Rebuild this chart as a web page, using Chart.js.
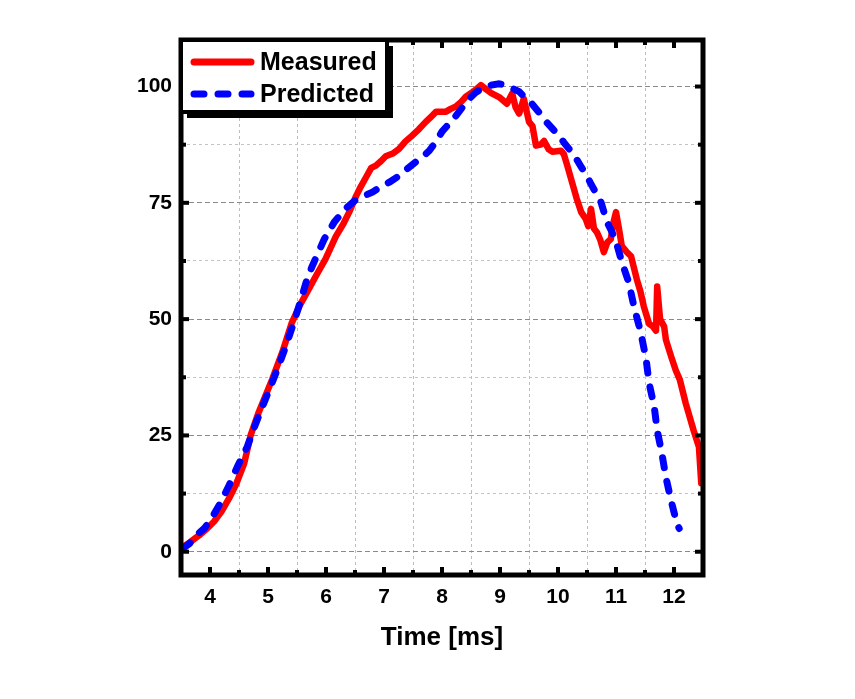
<!DOCTYPE html>
<html>
<head>
<meta charset="utf-8">
<script src="https://cdn.jsdelivr.net/npm/chart.js@4.4.1/dist/chart.umd.min.js"></script>
<style>
  html, body { margin: 0; padding: 0; background: #fff; }
  #wrap { width: 855px; height: 699px; }
</style>
</head>
<body>
<div id="wrap"><canvas id="chart" width="855" height="699"></canvas></div>
<script>
// measured curve (red)
const measuredTime = [3.52, 3.65, 3.81, 3.95, 4.07, 4.2, 4.33, 4.45, 4.59, 4.7, 4.84, 5.07, 5.25, 5.41, 5.55, 5.7, 5.85, 5.99, 6.17, 6.3, 6.4, 6.52, 6.6, 6.69, 6.78, 6.86, 6.95, 7.03, 7.15, 7.26, 7.37, 7.48, 7.6, 7.72, 7.82, 7.9, 8.07, 8.15, 8.24, 8.33, 8.41, 8.55, 8.67, 8.75, 8.85, 9.0, 9.12, 9.21, 9.27, 9.33, 9.41, 9.5, 9.56, 9.62, 9.7, 9.76, 9.84, 9.9, 10.05, 10.1, 10.16, 10.24, 10.32, 10.4, 10.48, 10.52, 10.57, 10.62, 10.67, 10.73, 10.79, 10.85, 10.91, 10.96, 11.0, 11.05, 11.1, 11.18, 11.26, 11.31, 11.36, 11.42, 11.48, 11.57, 11.63, 11.69, 11.71, 11.76, 11.83, 11.86, 11.95, 12.03, 12.1, 12.2, 12.27, 12.34, 12.43, 12.47]
const measuredValue = [0.9, 2.0, 3.5, 5, 6.5, 8.7, 11.5, 14.5, 19, 25, 30, 37, 43, 49.2, 53, 56.4, 59.8, 62.9, 67.8, 70.5, 73, 76.5, 78.5, 80.5, 82.5, 83, 84, 85, 85.6, 86.6, 88.2, 89.4, 90.8, 92.4, 93.6, 94.6, 94.6, 95.2, 95.7, 96.7, 97.8, 99, 100.3, 99.5, 98.6, 97.6, 96.3, 98.5, 95.5, 94.2, 97.4, 92.4, 91.5, 87.3, 87.5, 88.3, 86.5, 86, 86.2, 85.5, 83, 79.5, 76, 73, 71.5, 70, 73.7, 69.5, 68.7, 67, 64.4, 66.5, 67.2, 71, 73, 69.5, 65.7, 64.5, 63.5, 61, 58.5, 56, 52.7, 49, 48.5, 47.5, 57, 50, 48.4, 45.6, 42, 39, 37, 32, 29, 26, 22.5, 14.7]

// predicted curve (blue, dashed)
const predictedTime = [3.52, 3.65, 3.76, 3.9, 4.02, 4.18, 4.33, 4.48, 4.64, 4.79, 4.93, 5.07, 5.2, 5.33, 5.45, 5.57, 5.67, 5.75, 5.83, 5.97, 6.14, 6.25, 6.36, 6.5, 6.66, 6.8, 6.97, 7.1, 7.26, 7.4, 7.55, 7.68, 7.78, 7.9, 8.0, 8.12, 8.24, 8.35, 8.47, 8.58, 8.69, 8.85, 8.98, 9.1, 9.21, 9.33, 9.45, 9.55, 9.67, 9.79, 9.9, 10.02, 10.1, 10.19, 10.3, 10.4, 10.5, 10.57, 10.66, 10.74, 10.84, 10.92, 11.0, 11.1, 11.22, 11.31, 11.43, 11.52, 11.57, 11.66, 11.71, 11.79, 11.86, 11.95, 12.05, 12.09]
const predictedValue = [0.6, 1.8, 3.5, 5, 7, 10.5, 14.3, 18.5, 22.5, 27.6, 32, 36.3, 40.5, 45, 49.5, 54.2, 58.5, 61, 63.3, 67.2, 70.8, 72.5, 74, 75.5, 76.5, 77.3, 78.6, 79.5, 80.8, 82.3, 83.8, 85, 86.2, 88.2, 90.3, 92, 93.7, 95.5, 97.4, 98.7, 99.6, 100.3, 100.6, 100.3, 99.6, 98.9, 97.4, 96.3, 94.5, 92.5, 91, 89.4, 88, 86.6, 84.8, 82.7, 80.8, 79, 77, 75.2, 71, 69, 66.7, 62.3, 57.9, 52.7, 47, 41.3, 36.3, 31.1, 26.1, 21.2, 16, 11, 6, 5]

const xTickValues = [3.5, 4, 4.5, 5, 5.5, 6, 6.5, 7, 7.5, 8, 8.5, 9, 9.5, 10, 10.5, 11, 11.5, 12, 12.5]
const yTickValues = [0, 12.5, 25, 37.5, 50, 62.5, 75, 87.5, 100]
const xLabel = 'Time [ms]'
const seriesNames = ['Measured', 'Predicted']

const FONT = "'Liberation Sans', Arial, sans-serif"

const toPoints = (xs, ys) => xs.map((x, i) => ({ x: x, y: ys[i] }))
const isWhole = v => Math.abs(v - Math.round(v)) < 1e-6
const isMajorY = v => Math.abs(v % 25) < 1e-6

// ticks pointing inward on all four sides, plus the heavy frame
const framePlugin = {
  id: 'frame',
  afterDatasetsDraw(chart) {
    const { ctx, chartArea: a, scales } = chart
    ctx.save()
    ctx.fillStyle = '#000'
    scales.x.ticks.forEach(t => {
      const px = scales.x.getPixelForValue(t.value)
      if (t.value <= 3.5 || t.value >= 12.5) return
      const len = isWhole(t.value) ? 8 : 5
      ctx.fillRect(px - 2, a.bottom - len, 4, len)
      ctx.fillRect(px - 2, a.top, 4, len)
    })
    scales.y.ticks.forEach(t => {
      const py = scales.y.getPixelForValue(t.value)
      const len = isMajorY(t.value) ? 8 : 5
      ctx.fillRect(a.left, py - 2, len, 4)
      ctx.fillRect(a.right - len, py - 2, len, 4)
    })
    ctx.lineWidth = 5
    ctx.strokeStyle = '#000'
    ctx.strokeRect(a.left, a.top, a.right - a.left, a.bottom - a.top)
    ctx.restore()
  },
  afterDraw(chart) {
    // legend box with drop shadow
    const { ctx, chartArea: a } = chart
    const bx = a.left, by = a.top, bw = 206, bh = 72
    ctx.save()
    ctx.fillStyle = '#000'
    ctx.fillRect(bx + 6, by + 6, bw, bh)
    ctx.fillStyle = '#fff'
    ctx.fillRect(bx, by, bw, bh)
    ctx.lineWidth = 4
    ctx.strokeStyle = '#000'
    ctx.strokeRect(bx, by, bw, bh)
    chart.data.datasets.forEach((ds, i) => {
      const cy = by + 22 + i * 32
      ctx.beginPath()
      ctx.lineWidth = 7
      ctx.lineCap = 'round'
      ctx.strokeStyle = ds.borderColor
      ctx.setLineDash(ds.borderDash || [])
      ctx.moveTo(bx + 13, cy)
      ctx.lineTo(bx + 70, cy)
      ctx.stroke()
      ctx.setLineDash([])
      ctx.fillStyle = '#000'
      ctx.font = 'bold 25px ' + FONT
      ctx.textBaseline = 'middle'
      ctx.textAlign = 'left'
      ctx.fillText(ds.label, bx + 79, cy + 1)
    })
    ctx.restore()
  }
}

new Chart(document.getElementById('chart'), {
  type: 'line',
  data: {
    datasets: [
      {
        label: seriesNames[0],
        data: toPoints(measuredTime, measuredValue),
        borderColor: '#ff0000',
        borderWidth: 6.5,
        borderJoinStyle: 'round',
        borderCapStyle: 'round',
        pointRadius: 0,
        tension: 0,
        order: 2
      },
      {
        label: seriesNames[1],
        data: toPoints(predictedTime, predictedValue),
        borderColor: '#0000ff',
        borderWidth: 7,
        borderDash: [10, 14],
        borderCapStyle: 'round',
        pointRadius: 0,
        tension: 0,
        order: 1
      }
    ]
  },
  options: {
    responsive: false,
    animation: false,
    layout: { padding: { left: 100, right: 152, top: 40, bottom: 46 } },
    plugins: { legend: { display: false }, tooltip: { enabled: false } },
    scales: {
      x: {
        type: 'linear',
        min: 3.5,
        max: 12.5,
        afterBuildTicks: s => { s.ticks = xTickValues.map(v => ({ value: v })) },
        afterFit: s => { s.height = 78 },
        grid: {
          drawTicks: false,
          lineWidth: 1,
          color: c => (c.tick && !isWhole(c.tick.value) && c.tick.value > 3.5 && c.tick.value < 12.5) ? '#bdbdbd' : 'rgba(0,0,0,0)'
        },
        border: { display: false, dash: [3, 3] },
        ticks: {
          padding: 10,
          color: '#000',
          font: { family: FONT, size: 21, weight: 'bold' },
          maxRotation: 0,
          autoSkip: false,
          callback: v => (isWhole(v) && v > 3.5 && v < 12.5) ? String(v) : ''
        },
        title: {
          display: true,
          text: xLabel,
          color: '#000',
          font: { family: FONT, size: 26, weight: 'bold' },
          padding: 0
        }
      },
      y: {
        min: -5,
        max: 110,
        afterBuildTicks: s => { s.ticks = yTickValues.map(v => ({ value: v })) },
        afterFit: s => { s.width = 81 },
        grid: {
          drawTicks: false,
          lineWidth: 1,
          color: c => c.tick ? (isMajorY(c.tick.value) ? '#8a8a8a' : '#c4c4c4') : 'rgba(0,0,0,0)'
        },
        border: {
          display: false,
          dash: c => (c.tick && isMajorY(c.tick.value)) ? [5, 3] : [3, 3]
        },
        ticks: {
          padding: 9,
          color: '#000',
          font: { family: FONT, size: 21, weight: 'bold' },
          callback: v => isMajorY(v) ? String(v) : ''
        }
      }
    }
  },
  plugins: [framePlugin]
})
</script>
</body>
</html>
